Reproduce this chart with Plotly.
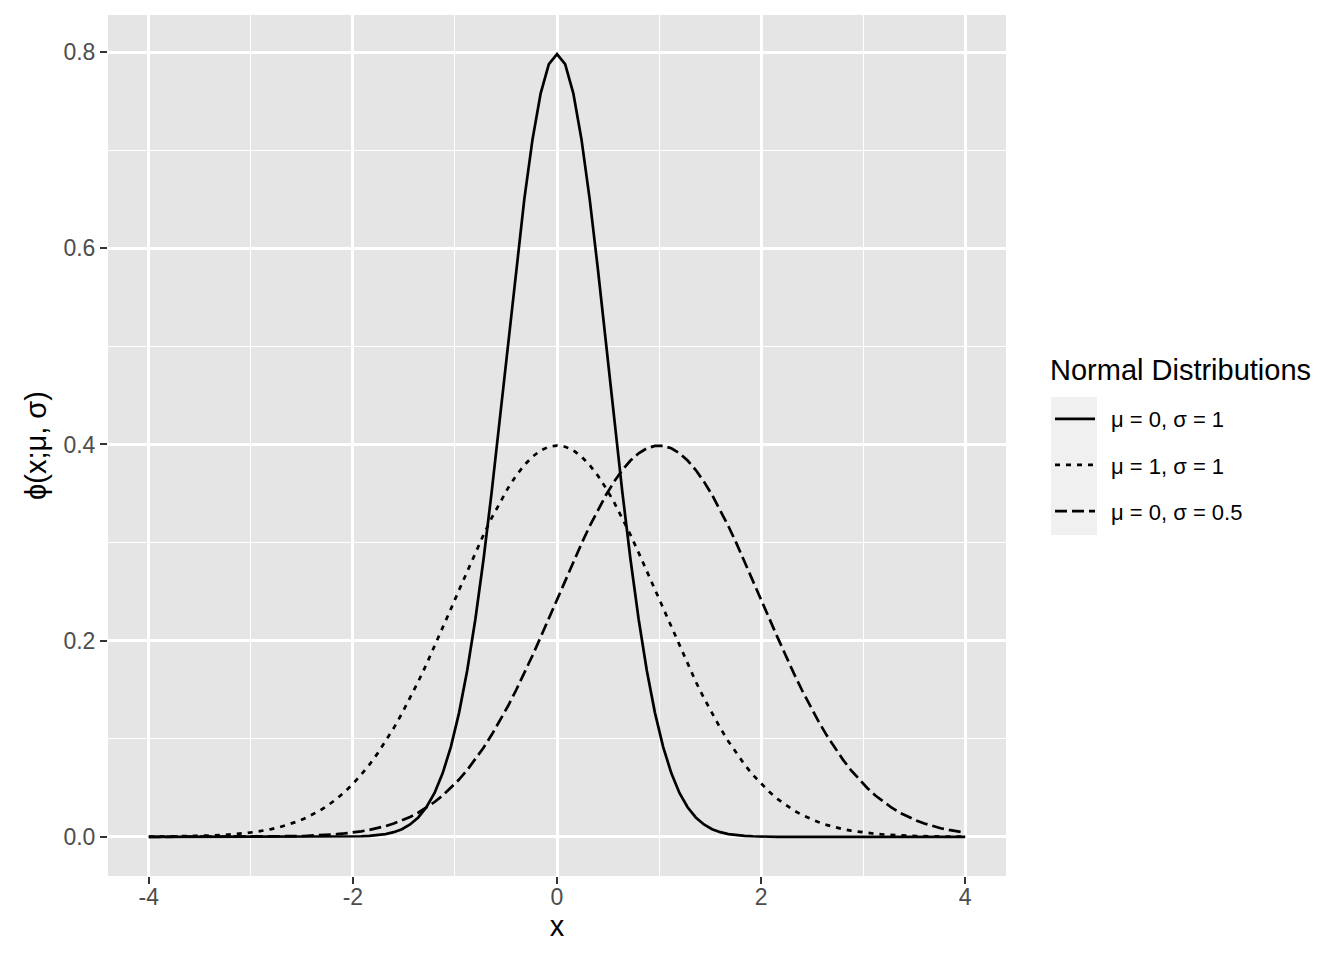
import numpy as np
import plotly.graph_objects as go

# grid of x values (101 points from -4 to 4)
x = np.linspace(-4, 4, 101)

# values, left to right
narrow = [
    0, 0, 0, 0, 0, 0, 0, 0, 0, 0, 0, 0, 0, 0, 0, 0, 0, 0, 0, 0, 0, 0, 0, 0, 0,
    0.0002, 0.0006, 0.0010, 0.0016, 0.0028, 0.0048, 0.0078, 0.0126, 0.0198, 0.0302,
    0.0448, 0.0650, 0.0918, 0.1264, 0.1696, 0.2218, 0.2830, 0.3516, 0.4262, 0.5033,
    0.5794, 0.6503, 0.7110, 0.7580, 0.7877, 0.7979, 0.7877, 0.7580, 0.7110, 0.6503,
    0.5794, 0.5033, 0.4262, 0.3516, 0.2830, 0.2218, 0.1696, 0.1264, 0.0918, 0.0650,
    0.0448, 0.0302, 0.0198, 0.0126, 0.0078, 0.0048, 0.0028, 0.0016, 0.0010, 0.0006,
    0.0002,
    0, 0, 0, 0, 0, 0, 0, 0, 0, 0, 0, 0, 0, 0, 0, 0, 0, 0, 0, 0, 0, 0, 0, 0, 0,
]

centered = [
    0.0001, 0.0002, 0.0003, 0.0003, 0.0005, 0.0006, 0.0008, 0.0011, 0.0014, 0.0018,
    0.0024, 0.0031, 0.0039, 0.0050, 0.0063, 0.0079, 0.0099, 0.0122, 0.0151, 0.0184,
    0.0224, 0.0270, 0.0325, 0.0387, 0.0459, 0.0540, 0.0632, 0.0734, 0.0848, 0.0973,
    0.1109, 0.1257, 0.1415, 0.1582, 0.1758, 0.1942, 0.2131, 0.2323, 0.2516, 0.2709,
    0.2897, 0.3079, 0.3251, 0.3410, 0.3555, 0.3683, 0.3790, 0.3876, 0.3939, 0.3977,
    0.3989,
    0.3977, 0.3939, 0.3876, 0.3790, 0.3683, 0.3555, 0.3410, 0.3251, 0.3079, 0.2897,
    0.2709, 0.2516, 0.2323, 0.2131, 0.1942, 0.1758, 0.1582, 0.1415, 0.1257, 0.1109,
    0.0973, 0.0848, 0.0734, 0.0632, 0.0540, 0.0459, 0.0387, 0.0325, 0.0270, 0.0224,
    0.0184, 0.0151, 0.0122, 0.0099, 0.0079, 0.0063, 0.0050, 0.0039, 0.0031, 0.0024,
    0.0018, 0.0014, 0.0011, 0.0008, 0.0006, 0.0005, 0.0003, 0.0003, 0.0002, 0.0001,
]

shifted = [
    0, 0, 0, 0, 0, 0, 0, 0, 0, 0, 0.0001, 0.0001, 0.0001, 0.0002, 0.0002,
    0.0003, 0.0004, 0.0005, 0.0007, 0.0009, 0.0012, 0.0016, 0.0021, 0.0027, 0.0035,
    0.0044, 0.0056, 0.0071, 0.0088, 0.0110, 0.0136, 0.0167, 0.0203, 0.0246, 0.0297,
    0.0355, 0.0422, 0.0498, 0.0584, 0.0681, 0.0790, 0.0909, 0.1040, 0.1182, 0.1334,
    0.1497, 0.1669, 0.1849, 0.2036, 0.2227, 0.2420, 0.2613, 0.2803, 0.2989, 0.3166,
    0.3332, 0.3485, 0.3621, 0.3739, 0.3836, 0.3910, 0.3961, 0.3986,
    0.3986, 0.3961, 0.3910, 0.3836, 0.3739, 0.3621, 0.3485, 0.3332, 0.3166, 0.2989,
    0.2803, 0.2613, 0.2420, 0.2227, 0.2036, 0.1849, 0.1669, 0.1497, 0.1334, 0.1182,
    0.1040, 0.0909, 0.0790, 0.0681, 0.0584, 0.0498, 0.0422, 0.0355, 0.0297, 0.0246,
    0.0203, 0.0167, 0.0136, 0.0110, 0.0088, 0.0071, 0.0056, 0.0044,
]

labels = ["μ = 0, σ = 1", "μ = 1, σ = 1", "μ = 0, σ = 0.5"]
dashes = ["solid", "5px,6px", "12px,5px"]

FONT = "Liberation Sans, Arial, Helvetica, sans-serif"

fig = go.Figure()
for i, (ys, name, dash) in enumerate(zip([narrow, centered, shifted], labels, dashes)):
    fig.add_trace(go.Scatter(
        x=x, y=ys, mode="lines", name="\u2002" + name,
        legendgroup=f"g{i}",
        line=dict(color="black", width=2.7, dash=dash),
    ))

# grey background behind legend keys
fig.add_shape(
    type="rect", xref="paper", yref="paper",
    x0=1.0501, x1=1.1013, y0=0.396, y1=0.5563,
    fillcolor="#F0F0F0", line=dict(width=0), layer="below",
)

# legend title
fig.add_annotation(
    xref="paper", yref="paper", x=1.047, y=0.5877,
    xanchor="left", yanchor="middle", showarrow=False,
    text="Normal Distributions", font=dict(size=29, color="black"),
)

fig.update_layout(
    width=1344, height=960,
    # page body has an 8px margin, so the plot area is shifted back by 8px
    margin=dict(l=100, r=346, t=7, b=92),
    paper_bgcolor="white",
    plot_bgcolor="#E5E5E5",
    font=dict(family=FONT, size=22, color="#4D4D4D"),
    xaxis=dict(
        range=[-4.4, 4.4], tickvals=[-4, -2, 0, 2, 4],
        ticktext=["-4", "-2", "0", "2", "4"],
        showgrid=True, gridcolor="white", gridwidth=2.6,
        minor=dict(tickvals=[-3, -1, 1, 3], showgrid=True, gridcolor="white", gridwidth=1.4, ticks=""),
        zeroline=False, showline=False,
        ticks="outside", ticklen=7, tickwidth=2.4, tickcolor="#333333",
        tickfont=dict(size=23, color="#4D4D4D"),
        ticklabelstandoff=-7,
        title=dict(text="x", font=dict(size=29, color="black"), standoff=4),
    ),
    yaxis=dict(
        range=[-0.0399, 0.8378], tickvals=[0, 0.2, 0.4, 0.6, 0.8],
        ticktext=["0.0", "0.2", "0.4", "0.6", "0.8"],
        showgrid=True, gridcolor="white", gridwidth=2.6,
        minor=dict(tickvals=[0.1, 0.3, 0.5, 0.7], showgrid=True, gridcolor="white", gridwidth=1.4, ticks=""),
        zeroline=False, showline=False,
        ticks="outside", ticklen=7, tickwidth=2.4, tickcolor="#333333",
        tickfont=dict(size=23, color="#4D4D4D"),
        title=dict(text="ϕ(x;μ, σ)", font=dict(size=29, color="black"), standoff=8),
    ),
    legend=dict(
        x=1.049, y=0.5551, xanchor="left", yanchor="top",
        font=dict(size=22, color="black"),
        bgcolor="rgba(0,0,0,0)",
        tracegroupgap=14.5,
        itemwidth=40,
    ),
)

fig.write_html("out.html")
